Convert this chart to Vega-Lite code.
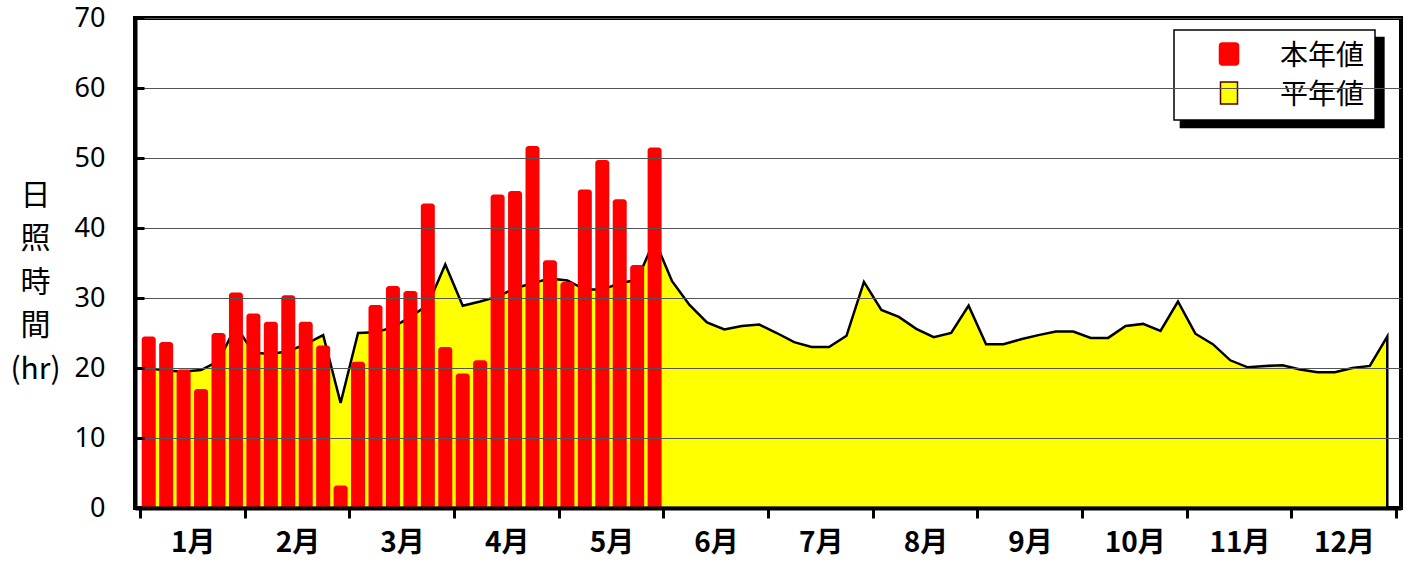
{
  "$schema": "https://vega.github.io/schema/vega-lite/v6.json",
  "width": 1266,
  "height": 490,
  "autosize": {"type": "none"},
  "padding": {"left": 135, "top": 18, "right": 14, "bottom": 54},
  "background": "white",
  "config": {"view": {"stroke": "black", "strokeWidth": 4}, "font": "Noto Sans CJK JP"},
  "datasets": {
    "sun": [
      {"p": 1, "s": "本年値", "v": 24.5}, {"p": 2, "s": "本年値", "v": 23.7}, {"p": 3, "s": "本年値", "v": 19.8},
      {"p": 4, "s": "本年値", "v": 17.0}, {"p": 5, "s": "本年値", "v": 25.0}, {"p": 6, "s": "本年値", "v": 30.8},
      {"p": 7, "s": "本年値", "v": 27.8}, {"p": 8, "s": "本年値", "v": 26.6}, {"p": 9, "s": "本年値", "v": 30.4},
      {"p": 10, "s": "本年値", "v": 26.6}, {"p": 11, "s": "本年値", "v": 23.2}, {"p": 12, "s": "本年値", "v": 3.2},
      {"p": 13, "s": "本年値", "v": 20.9}, {"p": 14, "s": "本年値", "v": 29.0}, {"p": 15, "s": "本年値", "v": 31.7},
      {"p": 16, "s": "本年値", "v": 31.0}, {"p": 17, "s": "本年値", "v": 43.5}, {"p": 18, "s": "本年値", "v": 23.0},
      {"p": 19, "s": "本年値", "v": 19.2}, {"p": 20, "s": "本年値", "v": 21.1}, {"p": 21, "s": "本年値", "v": 44.8},
      {"p": 22, "s": "本年値", "v": 45.3}, {"p": 23, "s": "本年値", "v": 51.7}, {"p": 24, "s": "本年値", "v": 35.4},
      {"p": 25, "s": "本年値", "v": 32.3}, {"p": 26, "s": "本年値", "v": 45.5}, {"p": 27, "s": "本年値", "v": 49.7},
      {"p": 28, "s": "本年値", "v": 44.1}, {"p": 29, "s": "本年値", "v": 34.7}, {"p": 30, "s": "本年値", "v": 51.5},
      {"p": 1, "s": "平年値", "v": 20.0}, {"p": 2, "s": "平年値", "v": 19.6}, {"p": 3, "s": "平年値", "v": 19.5},
      {"p": 4, "s": "平年値", "v": 19.7}, {"p": 5, "s": "平年値", "v": 21.0}, {"p": 6, "s": "平年値", "v": 26.0},
      {"p": 7, "s": "平年値", "v": 22.2}, {"p": 8, "s": "平年値", "v": 22.0}, {"p": 9, "s": "平年値", "v": 22.4},
      {"p": 10, "s": "平年値", "v": 23.4}, {"p": 11, "s": "平年値", "v": 24.7}, {"p": 12, "s": "平年値", "v": 15.0},
      {"p": 13, "s": "平年値", "v": 25.0}, {"p": 14, "s": "平年値", "v": 25.1}, {"p": 15, "s": "平年値", "v": 25.8},
      {"p": 16, "s": "平年値", "v": 27.3}, {"p": 17, "s": "平年値", "v": 29.0}, {"p": 18, "s": "平年値", "v": 34.8},
      {"p": 19, "s": "平年値", "v": 28.9}, {"p": 20, "s": "平年値", "v": 29.5}, {"p": 21, "s": "平年値", "v": 30.2},
      {"p": 22, "s": "平年値", "v": 31.4}, {"p": 23, "s": "平年値", "v": 32.1}, {"p": 24, "s": "平年値", "v": 32.8},
      {"p": 25, "s": "平年値", "v": 32.5}, {"p": 26, "s": "平年値", "v": 31.2}, {"p": 27, "s": "平年値", "v": 31.2},
      {"p": 28, "s": "平年値", "v": 32.1}, {"p": 29, "s": "平年値", "v": 32.6}, {"p": 30, "s": "平年値", "v": 38.3},
      {"p": 31, "s": "平年値", "v": 32.4}, {"p": 32, "s": "平年値", "v": 29.0}, {"p": 33, "s": "平年値", "v": 26.5},
      {"p": 34, "s": "平年値", "v": 25.5}, {"p": 35, "s": "平年値", "v": 26.0}, {"p": 36, "s": "平年値", "v": 26.2},
      {"p": 37, "s": "平年値", "v": 25.0}, {"p": 38, "s": "平年値", "v": 23.7}, {"p": 39, "s": "平年値", "v": 23.0},
      {"p": 40, "s": "平年値", "v": 23.0}, {"p": 41, "s": "平年値", "v": 24.6}, {"p": 42, "s": "平年値", "v": 32.3},
      {"p": 43, "s": "平年値", "v": 28.3}, {"p": 44, "s": "平年値", "v": 27.3}, {"p": 45, "s": "平年値", "v": 25.6},
      {"p": 46, "s": "平年値", "v": 24.4}, {"p": 47, "s": "平年値", "v": 25.0}, {"p": 48, "s": "平年値", "v": 28.9},
      {"p": 49, "s": "平年値", "v": 23.4}, {"p": 50, "s": "平年値", "v": 23.4}, {"p": 51, "s": "平年値", "v": 24.1},
      {"p": 52, "s": "平年値", "v": 24.7}, {"p": 53, "s": "平年値", "v": 25.2}, {"p": 54, "s": "平年値", "v": 25.2},
      {"p": 55, "s": "平年値", "v": 24.3}, {"p": 56, "s": "平年値", "v": 24.3}, {"p": 57, "s": "平年値", "v": 26.0},
      {"p": 58, "s": "平年値", "v": 26.3}, {"p": 59, "s": "平年値", "v": 25.3}, {"p": 60, "s": "平年値", "v": 29.5},
      {"p": 61, "s": "平年値", "v": 24.9}, {"p": 62, "s": "平年値", "v": 23.4}, {"p": 63, "s": "平年値", "v": 21.1},
      {"p": 64, "s": "平年値", "v": 20.1}, {"p": 65, "s": "平年値", "v": 20.3}, {"p": 66, "s": "平年値", "v": 20.4},
      {"p": 67, "s": "平年値", "v": 19.8}, {"p": 68, "s": "平年値", "v": 19.4}, {"p": 69, "s": "平年値", "v": 19.4},
      {"p": 70, "s": "平年値", "v": 20.0}, {"p": 71, "s": "平年値", "v": 20.3}, {"p": 72, "s": "平年値", "v": 24.5}
    ]
  },
  "data": {"name": "sun"},
  "encoding": {
    "x": {
      "field": "p", "type": "quantitative",
      "scale": {"domain": [0.5, 72.5], "nice": false, "zero": false},
      "axis": {
        "title": null,
        "values": [0.5, 6.5, 12.5, 18.5, 24.5, 30.5, 36.5, 42.5, 48.5, 54.5, 60.5, 66.5, 72.5],
        "labelExpr": "datum.value < 72 ? round((datum.value + 5.5) / 6) + '月' : ''",
        "labelOffset": 52.75, "labelFlush": false, "labelOverlap": false,
        "labelAlign": "center", "labelBaseline": "top", "labelPadding": 11,
        "labelFont": "Noto Sans CJK JP", "labelFontSize": 28, "labelFontWeight": "bold", "labelColor": "black",
        "tickSize": 10, "tickWidth": 3, "tickColor": "black",
        "domainColor": "black", "domainWidth": 4, "grid": false, "zindex": 1
      }
    },
    "y": {
      "field": "v", "type": "quantitative",
      "scale": {"domain": [0, 70], "nice": false},
      "axis": {
        "title": ["日", "照", "時", "間", "(hr)"],
        "values": [0, 10, 20, 30, 40, 50, 60, 70],
        "grid": true, "gridColor": "#555555", "gridWidth": 1,
        "tickSize": -9, "tickWidth": 3, "tickColor": "black",
        "domainColor": "black", "domainWidth": 4,
        "labelFont": "Noto Sans", "labelFontSize": 27, "labelColor": "black", "labelPadding": 39,
        "titleAngle": 0, "titleAlign": "center", "titleBaseline": "middle",
        "titleX": -100, "titleY": 177, "titleLineHeight": 43.5,
        "titleFont": "Noto Sans CJK JP", "titleFontSize": 30, "titleFontWeight": "normal", "titleColor": "black",
        "zindex": 1
      }
    }
  },
  "layer": [
    {
      "transform": [{"filter": "datum.p === 1 && datum.s === '本年値'"}],
      "mark": {"type": "rect", "fill": "black", "opacity": 1},
      "encoding": {
        "x": {"datum": 60.1, "type": "quantitative"},
        "x2": {"datum": 71.85},
        "y": {"datum": 67.33, "type": "quantitative"},
        "y2": {"datum": 54.24}
      }
    },
    {
      "transform": [{"filter": "datum.s === '平年値'"}],
      "mark": {"type": "area", "stroke": "black", "strokeWidth": 2.5, "strokeJoin": "miter", "opacity": 1, "fillOpacity": 1, "interpolate": "linear"},
      "encoding": {
        "y": {"field": "v", "type": "quantitative", "stack": null},
        "color": {
          "field": "s", "type": "nominal",
          "scale": {"domain": ["本年値", "平年値"], "range": ["#FF0000", "#FFFF00"]},
          "legend": {
            "title": null, "orient": "none", "legendX": 1039, "legendY": 12, "direction": "vertical",
            "fillColor": "white", "strokeColor": "black",
            "padding": 10, "rowPadding": 8, "symbolSize": 484, "symbolOffset": 31, "labelOffset": 37,
            "labelFont": "Noto Sans CJK JP", "labelFontSize": 28, "labelColor": "black",
            "symbolOpacity": 1, "symbolStrokeWidth": 1.5,
            "encode": {
              "legend": {"update": {"strokeWidth": {"value": 1.5}}},
              "symbols": {"update": {
                "shape": {"signal": "datum.value === '本年値' ? 'M-0.59,-1H0.59Q0.864,-1 0.864,-0.73V0.73Q0.864,1 0.59,1H-0.59Q-0.864,1 -0.864,0.73V-0.73Q-0.864,-1 -0.59,-1Z' : 'M-0.773,-1H0.773V1H-0.773Z'"},
                "stroke": {"signal": "datum.value === '本年値' ? '#FF0000' : '#500000'"}
              }},
              "labels": {"update": {"dy": {"value": 3}}}
            }
          }
        }
      }
    },
    {
      "transform": [{"filter": "datum.s === '本年値'"}],
      "mark": {"type": "bar", "orient": "vertical", "width": 14, "cornerRadiusTopLeft": 3, "cornerRadiusTopRight": 3, "opacity": 1},
      "encoding": {
        "y": {"field": "v", "type": "quantitative", "stack": null},
        "color": {
          "field": "s", "type": "nominal",
          "scale": {"domain": ["本年値", "平年値"], "range": ["#FF0000", "#FFFF00"]},
          "legend": {
            "title": null, "orient": "none", "legendX": 1039, "legendY": 12, "direction": "vertical",
            "fillColor": "white", "strokeColor": "black",
            "padding": 10, "rowPadding": 8, "symbolSize": 484, "symbolOffset": 31, "labelOffset": 37,
            "labelFont": "Noto Sans CJK JP", "labelFontSize": 28, "labelColor": "black",
            "symbolOpacity": 1, "symbolStrokeWidth": 1.5,
            "encode": {
              "legend": {"update": {"strokeWidth": {"value": 1.5}}},
              "symbols": {"update": {
                "shape": {"signal": "datum.value === '本年値' ? 'M-0.59,-1H0.59Q0.864,-1 0.864,-0.73V0.73Q0.864,1 0.59,1H-0.59Q-0.864,1 -0.864,0.73V-0.73Q-0.864,-1 -0.59,-1Z' : 'M-0.773,-1H0.773V1H-0.773Z'"},
                "stroke": {"signal": "datum.value === '本年値' ? '#FF0000' : '#500000'"}
              }},
              "labels": {"update": {"dy": {"value": 3}}}
            }
          }
        }
      }
    }
  ]
}
